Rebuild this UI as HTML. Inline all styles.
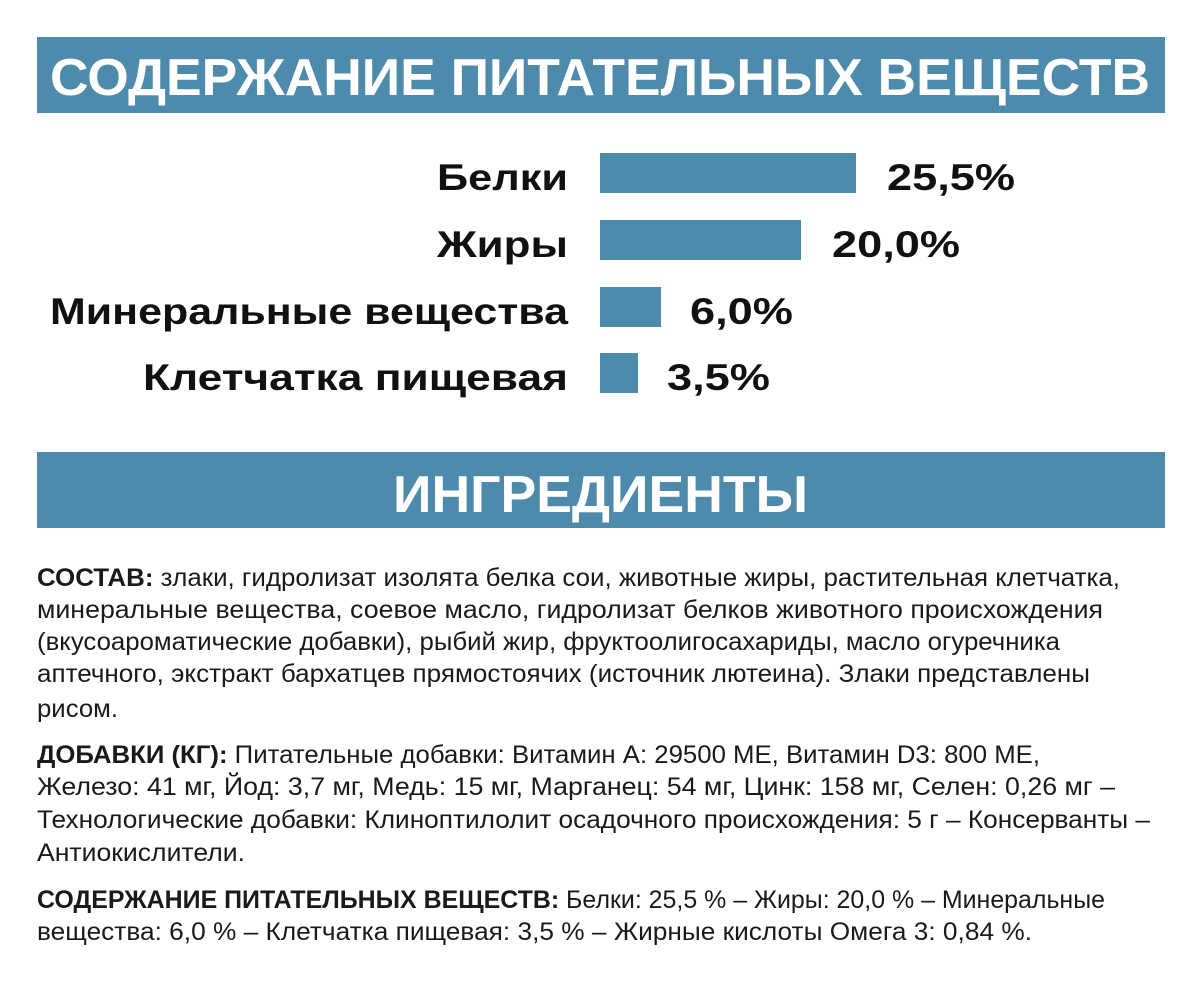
<!DOCTYPE html>
<html><head><meta charset="utf-8"><style>
html,body{margin:0;padding:0;background:#fff;}
svg{display:block;}
text{font-family:"Liberation Sans",sans-serif;}
</style></head><body>
<svg width="1200" height="981" xmlns="http://www.w3.org/2000/svg">
<rect x="37" y="37" width="1128" height="76" fill="#4e8aab"/>
<text x="50" y="95" font-size="52" font-weight="bold" fill="#fff" textLength="1100" lengthAdjust="spacingAndGlyphs">СОДЕРЖАНИЕ ПИТАТЕЛЬНЫХ ВЕЩЕСТВ</text>
<g font-size="37" font-weight="bold" fill="#111">
<text x="437" y="190" textLength="131" lengthAdjust="spacingAndGlyphs">Белки</text>
<text x="437" y="257" textLength="131" lengthAdjust="spacingAndGlyphs">Жиры</text>
<text x="50" y="324" textLength="518" lengthAdjust="spacingAndGlyphs">Минеральные вещества</text>
<text x="143" y="390" textLength="425" lengthAdjust="spacingAndGlyphs">Клетчатка пищевая</text>
<text x="887" y="190" textLength="128" lengthAdjust="spacingAndGlyphs">25,5%</text>
<text x="832" y="257" textLength="128" lengthAdjust="spacingAndGlyphs">20,0%</text>
<text x="690" y="324" textLength="103" lengthAdjust="spacingAndGlyphs">6,0%</text>
<text x="667" y="390" textLength="103" lengthAdjust="spacingAndGlyphs">3,5%</text>
</g>
<g fill="#4e8aab">
<rect x="600" y="153" width="256" height="40"/>
<rect x="600" y="220" width="201" height="40"/>
<rect x="600" y="287" width="61" height="40"/>
<rect x="600" y="353" width="38" height="40"/>
</g>
<rect x="37" y="452" width="1128" height="76" fill="#4e8aab"/>
<text x="393" y="512" font-size="52" font-weight="bold" fill="#fff" textLength="415" lengthAdjust="spacingAndGlyphs">ИНГРЕДИЕНТЫ</text>
<g font-size="25" fill="#1a1a1a">
<text x="37" y="586" textLength="1083" lengthAdjust="spacingAndGlyphs"><tspan font-weight="bold">СОСТАВ:</tspan> злаки, гидролизат изолята белка сои, животные жиры, растительная клетчатка,</text>
<text x="37" y="618" textLength="1066" lengthAdjust="spacingAndGlyphs">минеральные вещества, соевое масло, гидролизат белков животного происхождения</text>
<text x="37" y="650" textLength="1023" lengthAdjust="spacingAndGlyphs">(вкусоароматические добавки), рыбий жир, фруктоолигосахариды, масло огуречника</text>
<text x="37" y="682" textLength="1053" lengthAdjust="spacingAndGlyphs">аптечного, экстракт бархатцев прямостоячих (источник лютеина). Злаки представлены</text>
<text x="37" y="717" textLength="81" lengthAdjust="spacingAndGlyphs">рисом.</text>
<text x="37" y="763" textLength="1003" lengthAdjust="spacingAndGlyphs"><tspan font-weight="bold">ДОБАВКИ (КГ):</tspan> Питательные добавки: Витамин А: 29500 МЕ, Витамин D3: 800 МЕ,</text>
<text x="37" y="795" textLength="1078" lengthAdjust="spacingAndGlyphs">Железо: 41 мг, Йод: 3,7 мг, Медь: 15 мг, Марганец: 54 мг, Цинк: 158 мг, Селен: 0,26 мг –</text>
<text x="37" y="828" textLength="1113" lengthAdjust="spacingAndGlyphs">Технологические добавки: Клиноптилолит осадочного происхождения: 5 г – Консерванты –</text>
<text x="37" y="861" textLength="208" lengthAdjust="spacingAndGlyphs">Антиокислители.</text>
<text x="37" y="908" textLength="1068" lengthAdjust="spacingAndGlyphs"><tspan font-weight="bold">СОДЕРЖАНИЕ ПИТАТЕЛЬНЫХ ВЕЩЕСТВ:</tspan> Белки: 25,5 % – Жиры: 20,0 % – Минеральные</text>
<text x="37" y="940" textLength="995" lengthAdjust="spacingAndGlyphs">вещества: 6,0 % – Клетчатка пищевая: 3,5 % – Жирные кислоты Омега 3: 0,84 %.</text>
</g>
</svg>
</body></html>
